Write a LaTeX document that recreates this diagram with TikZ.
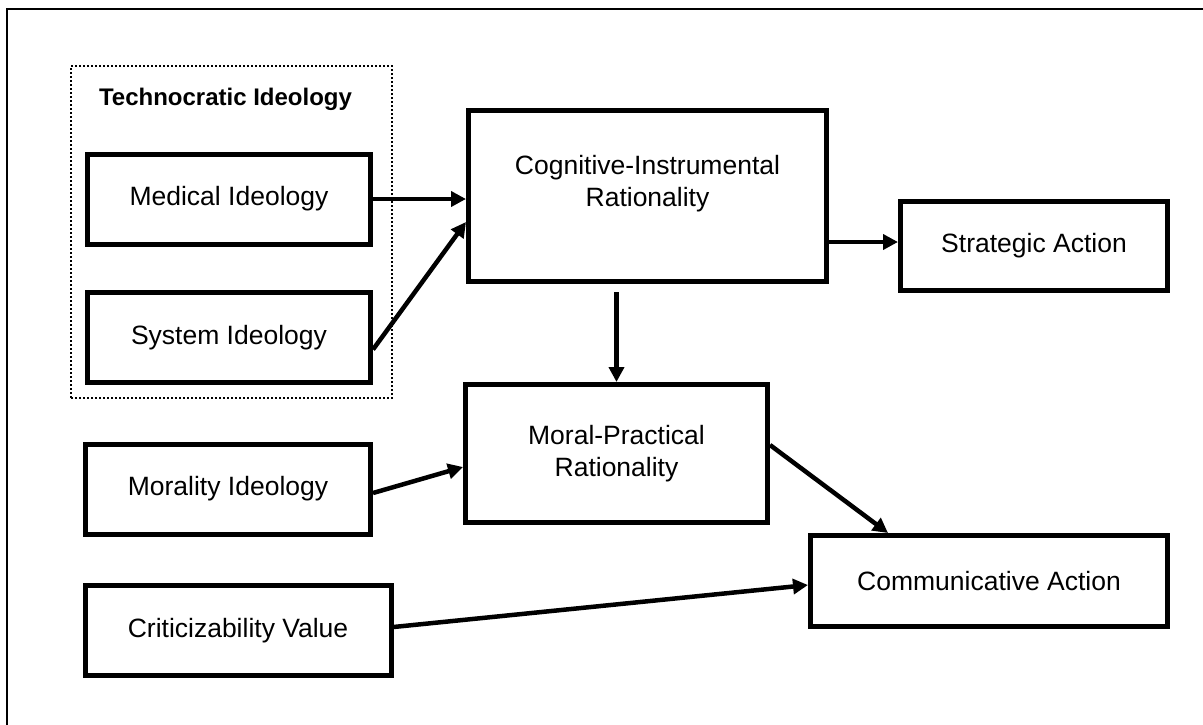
\documentclass[tikz,border=0pt]{standalone}
\usepackage{fontspec}
\setmainfont{Liberation Sans}
\usetikzlibrary{arrows.meta}

\tikzset{
	box/.style={draw, line width=5pt, inner sep=0pt},
	txt/.style={font=\fontsize{26.5}{32}\selectfont, align=center},
	arr/.style={line width=4.5pt, -{Triangle[length=15pt,width=15pt]}},
}

\begin{document}
\begin{tikzpicture}[x=1pt, y=-1pt]
	\path[use as bounding box] (0,0) rectangle (1203,724);
	\clip (0,0) rectangle (1203,724);
	\draw[line width=2pt] (7,9) rectangle (1220,740);

	% technocratic group
	\node[draw, line width=2pt, dash pattern=on 2pt off 2pt, minimum width=321pt, minimum height=332pt] (techgrp) at (231.5,232) {};
	\node[font=\fontsize{24}{28}\selectfont\bfseries] (techlbl) at (225.5,99) {Technocratic Ideology};
	\node[box, txt, minimum width=283pt, minimum height=90pt] (med) at (229,199) {Medical Ideology};
	\node[box, txt, minimum width=283pt, minimum height=90pt] (sys) at (229,337.5) {System Ideology};

	% left column, below the group
	\node[box, txt, minimum width=285pt, minimum height=90pt] (morid) at (228,489) {Morality Ideology};
	\node[box, txt, minimum width=306pt, minimum height=90pt] (crit) at (238,630.5) {Criticizability Value};

	% rationalities
	\node[box, minimum width=358pt, minimum height=171pt] (cogr) at (647.5,196) {};
	\node[txt] (cogrtxt) at (647.5,184) {Cognitive-Instrumental\\Rationality};
	\node[box, txt, minimum width=302pt, minimum height=138pt] (morr) at (616.5,453.5) {Moral-Practical\\Rationality};

	% actions
	\node[box, txt, minimum width=267pt, minimum height=89pt] (strat) at (1034,246) {Strategic Action};
	\node[box, txt, minimum width=357pt, minimum height=91pt] (comm) at (989,581) {Communicative Action};

	\draw[arr] (med.east) to (med.east -| cogr.west);
	\draw[arr] ([yshift=-12pt]sys.east) to ([yshift=-26pt]cogr.west);
	\draw[arr] ([yshift=4pt]strat.west -| cogr.east) to ([yshift=4pt]strat.west);
	\coordinate (dtop) at ([yshift=-8pt]cogr.south);
	\draw[arr] (dtop -| morr.north) to (morr.north);
	\draw[arr] ([yshift=-4pt]morid.east) to ([yshift=-13.5pt]morr.west);
	\draw[arr] ([yshift=8.5pt]morr.east) to ([xshift=-101pt]comm.north);
	\draw[arr] ([yshift=3.5pt]crit.east) to ([yshift=-4pt]comm.west);
\end{tikzpicture}
\end{document}
